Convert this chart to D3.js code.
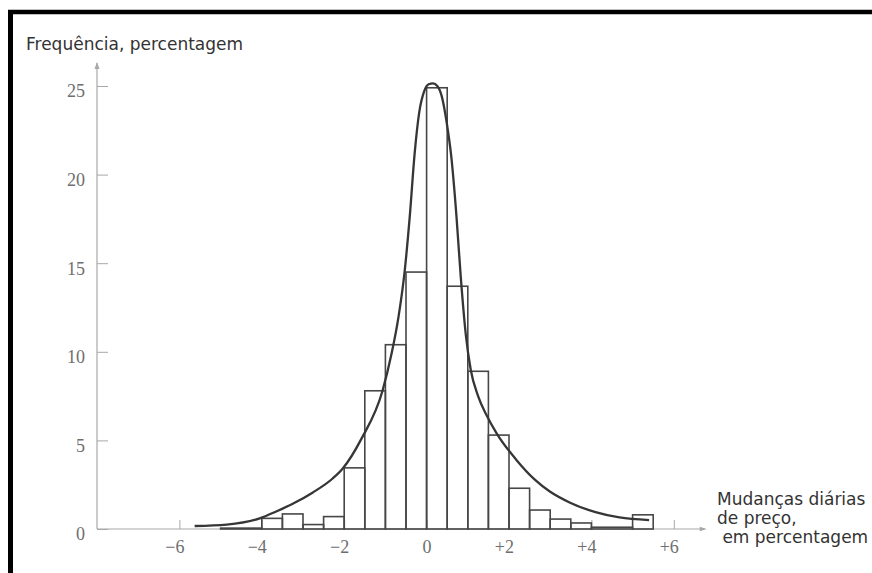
<!DOCTYPE html>
<html>
<head>
<meta charset="utf-8">
<script src="https://cdn.jsdelivr.net/npm/d3@7"></script>
<style>
  html, body { margin: 0; padding: 0; background: #fff; }
  svg { display: block; }
</style>
</head>
<body>
<svg id="chart" width="872" height="573"></svg>
<script>
// ---- data ----
const binEdges = [-5, -4, -3.5, -3, -2.5, -2, -1.5, -1, -0.5, 0, 0.5, 1, 1.5, 2, 2.5, 3, 3.5, 4, 5, 5.5];
const frequencies = [0.05, 0.6, 0.85, 0.25, 0.7, 3.45, 7.8, 10.4, 14.5, 24.9, 13.7, 8.9, 5.3, 2.3, 1.07, 0.56, 0.34, 0.1, 0.8];

const curveX = [-5.63, -4.85, -4.05, -3.64, -3.25, -2.77, -2.28, -2.04, -1.58, -1.07, -0.85, -0.68, -0.53, -0.41, -0.29, -0.18, -0.06, 0.05, 0.155, 0.26, 0.37, 0.49, 0.6, 0.72, 0.83, 0.95, 1.07, 1.25, 1.45, 1.7, 2.18, 2.62, 3.0, 3.47, 4.1, 4.68, 5.4];
const curveY = [0.17, 0.25, 0.6, 1.0, 1.42, 2.05, 2.85, 3.4, 5.1, 7.8, 9.9, 12.0, 14.6, 17.6, 21.2, 23.5, 24.7, 25.1, 25.15, 25.0, 24.4, 22.9, 21.0, 17.8, 14.2, 11.0, 9.0, 7.5, 6.45, 5.4, 3.9, 2.8, 2.1, 1.5, 0.95, 0.65, 0.5];

const xTicks = [-6, -4, -2, 0, 2, 4, 6];
const yTicks = [0, 5, 10, 15, 20, 25];
const yTitle = "Frequência, percentagem";
const xTitleLines = ["Mudanças diárias", "de preço,", " em percentagem"];

// ---- layout ----
const svg = d3.select("#chart");
const x = d3.scaleLinear().domain([-8, 6.5]).range([97, 694.4]);
const y = d3.scaleLinear().domain([0, 25]).range([529, 86]);

const axisColor = "#a8a8a8";
const inkBar = "#474747";
const inkCurve = "#363636";

// frame (top and left border of the scanned page)
svg.append("line").attr("x1", 8).attr("x2", 872).attr("y1", 12).attr("y2", 12)
  .attr("stroke", "#000").attr("stroke-width", 4.5);
svg.append("line").attr("x1", 10.5).attr("x2", 10.5).attr("y1", 10).attr("y2", 573)
  .attr("stroke", "#000").attr("stroke-width", 5);

// y axis
const yAxis = d3.axisLeft(y).tickValues(yTicks).tickSizeInner(-11).tickSizeOuter(0).tickPadding(12)
  .tickFormat(d3.format("d"));
const gy = svg.append("g").attr("transform", `translate(${x(-8)},0)`).call(yAxis);
gy.select(".domain").remove();
gy.selectAll(".tick line").attr("stroke", axisColor).attr("stroke-width", 1);
gy.selectAll(".tick text").attr("fill", "#6e6e6e")
  .attr("font-family", "'Liberation Serif', 'DejaVu Serif', serif").attr("font-size", 18)
  .attr("dy", "0.6em");
// y axis line with arrow
svg.append("line").attr("x1", x(-8)).attr("x2", x(-8)).attr("y1", y(0)).attr("y2", y(26.3))
  .attr("stroke", axisColor).attr("stroke-width", 1.2);
svg.append("path")
  .attr("d", `M${x(-8) - 2.5},${y(26.3) + 6} L${x(-8)},${y(26.3) - 1} L${x(-8) + 2.5},${y(26.3) + 6} Z`)
  .attr("fill", axisColor);

// x axis
const xAxis = d3.axisBottom(x).tickValues(xTicks).tickSizeInner(-9).tickSizeOuter(0).tickPadding(0)
  .tickFormat(d => d === 0 ? "0" : (d < 0 ? "\u2212" + Math.abs(d) : "+" + d));
const gx = svg.append("g").attr("transform", `translate(0,${y(0)})`).call(xAxis);
gx.select(".domain").remove();
gx.selectAll(".tick line").attr("stroke", axisColor).attr("stroke-width", 1);
gx.selectAll(".tick text").attr("fill", "#6e6e6e")
  .attr("font-family", "'Liberation Serif', 'DejaVu Serif', serif").attr("font-size", 18)
  .attr("y", 24).attr("dy", 0)
  .attr("text-anchor", d => d === 0 ? "middle" : "end")
  .attr("dx", d => d === 0 ? 0 : 4.5);
svg.append("line").attr("x1", x(-8)).attr("x2", x(6.75)).attr("y1", y(0)).attr("y2", y(0))
  .attr("stroke", axisColor).attr("stroke-width", 1.2);
svg.append("path")
  .attr("d", `M${x(6.75) - 5},${y(0) - 2.2} L${x(6.75) + 2},${y(0)} L${x(6.75) - 5},${y(0) + 2.2} Z`)
  .attr("fill", axisColor);

// histogram bars
const bins = frequencies.map((f, i) => ({ x0: binEdges[i], x1: binEdges[i + 1], f }));
svg.append("g").selectAll("rect").data(bins).join("rect")
  .attr("x", d => x(d.x0))
  .attr("width", d => x(d.x1) - x(d.x0))
  .attr("y", d => y(d.f))
  .attr("height", d => y(0) - y(d.f))
  .attr("fill", "none")
  .attr("stroke", inkBar)
  .attr("stroke-width", 1.6);

// fitted curve
const pts = curveX.map((v, i) => [v, curveY[i]]);
const line = d3.line().x(d => x(d[0])).y(d => y(d[1])).curve(d3.curveMonotoneX);
svg.append("path").datum(pts).attr("d", line)
  .attr("fill", "none").attr("stroke", inkCurve).attr("stroke-width", 2.3)
  .attr("stroke-linejoin", "round");

// titles
const sans = "'DejaVu Sans', 'Liberation Sans', sans-serif";
svg.append("text").attr("x", 26).attr("y", 50).text(yTitle)
  .attr("font-family", sans).attr("font-size", 17).attr("fill", "#333");
const xt = svg.append("text").attr("font-family", sans).attr("font-size", 17).attr("fill", "#333");
xt.selectAll("tspan").data(xTitleLines).join("tspan")
  .attr("x", 717).attr("y", (d, i) => 505 + i * 19)
  .attr("xml:space", "preserve")
  .style("white-space", "pre")
  .text(d => d);
</script>
</body>
</html>
